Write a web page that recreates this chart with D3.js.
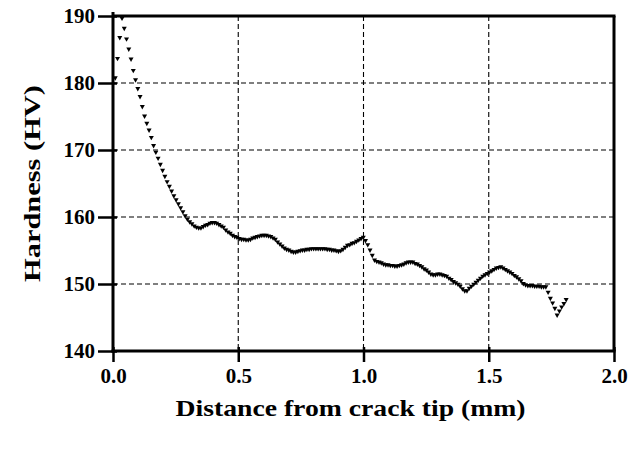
<!DOCTYPE html>
<html>
<head>
<meta charset="utf-8">
<script src="https://cdn.jsdelivr.net/npm/d3@7"></script>
<style>
  html, body { margin: 0; padding: 0; background: #fff; }
  svg { display: block; }
  text { font-family: "Liberation Serif", "Times New Roman", serif; font-weight: bold; fill: #000; }
</style>
</head>
<body>
<svg id="chart" width="629" height="452"></svg>
<script>
// Microhardness traverse ahead of the crack tip
const STEP = 0.009; // indentation spacing (mm)
const hardness = [
  180.7, 183.6, 186.7, 189.6, 188.1, 186.5, 185.0, 183.5, 181.8, 180.4,
  179.1, 177.9, 176.4, 175.0, 173.9, 172.9, 171.8, 170.6, 169.6, 168.7,
  167.8, 166.9, 166.0, 165.2, 164.5, 163.8, 163.1, 162.5, 161.9, 161.3,
  160.7, 160.1, 159.6, 159.2, 158.9, 158.6, 158.4, 158.3, 158.3, 158.5,
  158.7, 158.8, 159.0, 159.1, 159.1, 159.0, 158.8, 158.6, 158.4, 158.0,
  157.7, 157.5, 157.2, 157.0, 156.9, 156.7, 156.6, 156.6, 156.5, 156.5,
  156.6, 156.8, 156.9, 157.0, 157.1, 157.2, 157.2, 157.2, 157.1, 157.0,
  156.8, 156.6, 156.2, 155.9, 155.6, 155.3, 155.1, 155.0, 154.8, 154.7,
  154.7, 154.8, 154.9, 155.0, 155.0, 155.1, 155.1, 155.2, 155.2, 155.2,
  155.2, 155.2, 155.2, 155.2, 155.1, 155.1, 155.0, 155.0, 154.9, 154.8,
  154.9, 155.1, 155.4, 155.7, 155.8, 156.0, 156.1, 156.3, 156.5, 156.7,
  156.9, 156.4, 155.8, 155.0, 154.2, 153.5, 153.3, 153.2, 153.1, 152.9,
  152.8, 152.8, 152.7, 152.7, 152.6, 152.6, 152.7, 152.8, 152.9, 153.1,
  153.2, 153.2, 153.2, 153.0, 152.9, 152.7, 152.5, 152.2, 152.0, 151.7,
  151.4, 151.3, 151.3, 151.4, 151.4, 151.3, 151.2, 151.1, 150.8, 150.6,
  150.3, 150.1, 149.9, 149.6, 149.2, 148.9, 148.9, 149.3, 149.6, 149.9,
  150.2, 150.5, 150.8, 151.1, 151.3, 151.5, 151.7, 151.9, 152.1, 152.3,
  152.4, 152.5, 152.3, 152.1, 151.9, 151.7, 151.5, 151.2, 151.0, 150.7,
  150.4, 150.0, 149.8, 149.7, 149.7, 149.7, 149.6, 149.6, 149.6, 149.5,
  149.5, 149.5, 148.7, 147.8, 147.1, 146.3, 145.3, 145.9, 146.5, 147.0,
  147.6
];
const xTicks = [0, 0.5, 1.0, 1.5, 2.0];
const yTicks = [140, 150, 160, 170, 180, 190];
const xGrid = [0.5, 1.0, 1.5];
const yGrid = [150, 160, 170, 180];
const xTitle = "Distance from crack tip (mm)";
const yTitle = "Hardness (HV)";

const points = hardness.map((h, i) => ({ d: (i + 1) * STEP, h }));

const svg = d3.select("#chart");
const margin = { left: 113, right: 15, top: 16, bottom: 101 };
const W = 629, H = 452;

const x = d3.scaleLinear().domain([0, 2]).range([margin.left, W - margin.right]);
const y = d3.scaleLinear().domain([140, 190]).range([H - margin.bottom, margin.top]);

svg.append("rect").attr("width", W).attr("height", H).attr("fill", "#fff");

// dashed grid
const grid = svg.append("g").attr("stroke", "#000").attr("stroke-width", 1.1)
  .attr("stroke-dasharray", "5,3");
grid.selectAll("line.v").data(xGrid).join("line").attr("class", "v")
  .attr("x1", d => x(d)).attr("x2", d => x(d))
  .attr("y1", y(190)).attr("y2", y(140));
grid.selectAll("line.h").data(yGrid).join("line").attr("class", "h")
  .attr("x1", x(0)).attr("x2", x(2))
  .attr("y1", d => y(d)).attr("y2", d => y(d));

// top and right frame
svg.append("line").attr("x1", x(0)).attr("x2", x(2) + 1.5)
  .attr("y1", y(190)).attr("y2", y(190)).attr("stroke", "#000").attr("stroke-width", 3);
svg.append("line").attr("x1", x(2)).attr("x2", x(2))
  .attr("y1", y(190)).attr("y2", y(140)).attr("stroke", "#000").attr("stroke-width", 3);

// axes
const xAxis = svg.append("g").attr("transform", `translate(0,${y(140)})`)
  .call(d3.axisBottom(x).tickValues(xTicks).tickFormat(d3.format(".1f"))
    .tickSize(11).tickSizeOuter(0).tickPadding(6));
xAxis.selectAll(".tick line").attr("y1", -4).attr("stroke-width", 2.5);
xAxis.select(".domain").attr("stroke-width", 3);
xAxis.selectAll("text").attr("font-size", 21);

const yAxis = svg.append("g").attr("transform", `translate(${x(0)},0)`)
  .call(d3.axisLeft(y).tickValues(yTicks).tickFormat(d3.format("d"))
    .tickSize(15).tickSizeOuter(0).tickPadding(3));
yAxis.selectAll(".tick line").attr("x1", 4).attr("stroke-width", 2.5);
yAxis.select(".domain").attr("stroke-width", 3);
yAxis.selectAll("text").attr("font-size", 21);
yAxis.select(".domain").attr("d", `M0,${y(190) - 4}V${y(140) + 1.5}`);
xAxis.select(".domain").attr("d", `M${x(0) - 1.5},0H${x(2) + 1.5}`);

// markers: downward triangles
const tri = "M-2.5,-2L2.5,-2L0,2.4Z";
svg.append("g").selectAll("path").data(points).join("path")
  .attr("d", tri)
  .attr("transform", d => `translate(${x(d.d)},${y(d.h)})`)
  .attr("fill", "#000");

// titles
svg.append("text")
  .attr("x", (x(0) + x(2)) / 2 - 13).attr("y", 416)
  .attr("text-anchor", "middle").attr("font-size", 24)
  .attr("textLength", 350).attr("lengthAdjust", "spacingAndGlyphs")
  .text(xTitle);
svg.append("text")
  .attr("transform", `translate(40,${(y(140) + y(190)) / 2 + 0}) rotate(-90)`)
  .attr("text-anchor", "middle").attr("font-size", 24)
  .attr("textLength", 197).attr("lengthAdjust", "spacingAndGlyphs")
  .text(yTitle);
</script>
</body>
</html>
